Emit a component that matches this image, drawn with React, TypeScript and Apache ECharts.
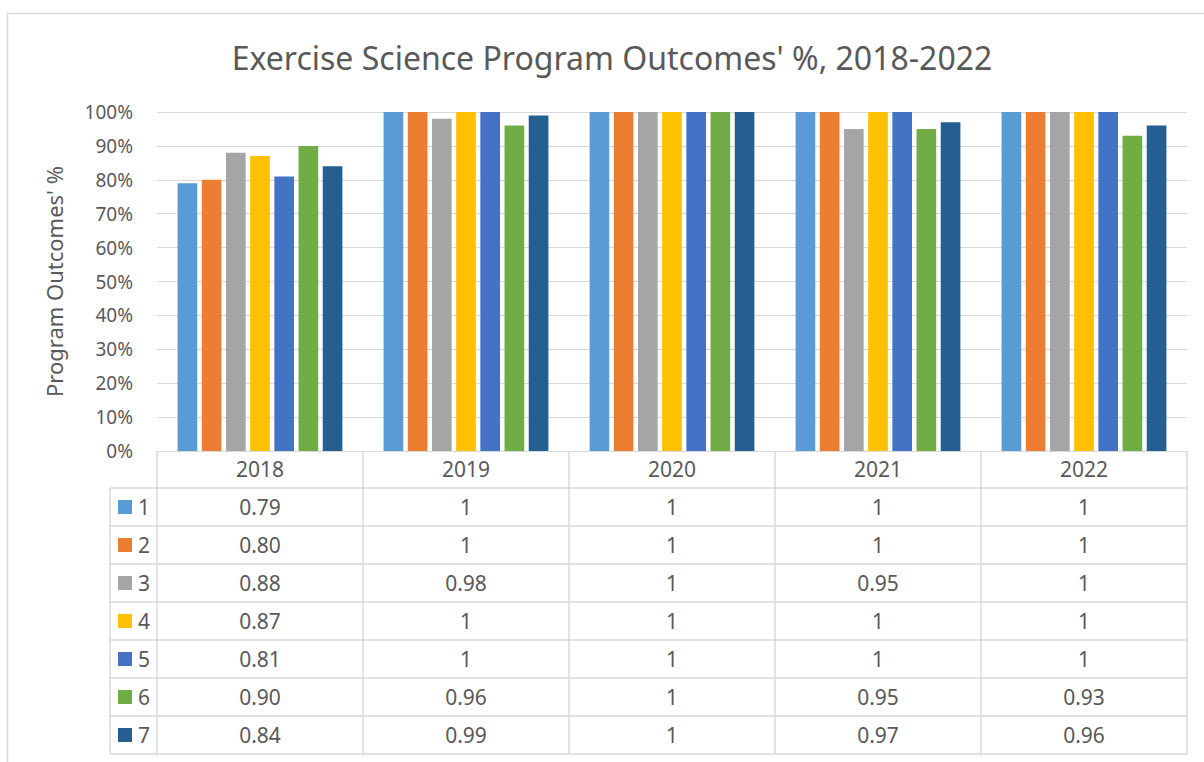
import React, { useEffect, useRef } from "react";
import * as echarts from "echarts";

const years = ["2018", "2019", "2020", "2021", "2022"];
const seriesNames = ["1", "2", "3", "4", "5", "6", "7"];
const s1 = [0.79, 1, 1, 1, 1];
const s2 = [0.8, 1, 1, 1, 1];
const s3 = [0.88, 0.98, 1, 0.95, 1];
const s4 = [0.87, 1, 1, 1, 1];
const s5 = [0.81, 1, 1, 1, 1];
const s6 = [0.9, 0.96, 1, 0.95, 0.93];
const s7 = [0.84, 0.99, 1, 0.97, 0.96];
const seriesData = [s1, s2, s3, s4, s5, s6, s7];
const colors = ["#5B9BD5", "#ED7D31", "#A5A5A5", "#FFC000", "#4472C4", "#70AD47", "#255E91"];
const yTicks = [0, 0.1, 0.2, 0.3, 0.4, 0.5, 0.6, 0.7, 0.8, 0.9, 1];

const FONT = "'Noto Sans', sans-serif";
const TXT = "#595959";
const LINE = "#D9D9D9";

const GRID_LEFT = 157;
const GRID_RIGHT_X = 1187;
const GRID_TOP = 112;
const GRID_BOTTOM_Y = 451;
const HEADER_H = 37;
const ROW_H = 38;
const KEY_LEFT = 110;

function fmt(v: number) {
  return v === 1 ? "1" : v.toFixed(2);
}

export default function App() {
  const ref = useRef<HTMLDivElement>(null);
  useEffect(() => {
    const chart = echarts.init(ref.current!, undefined, { renderer: "svg" });
    const base: any = {
      animation: false,
      color: colors,
      grid: {
        left: GRID_LEFT,
        right: 1204 - GRID_RIGHT_X,
        top: GRID_TOP,
        bottom: 762 - GRID_BOTTOM_Y,
        containLabel: false,
      },
      xAxis: {
        type: "category",
        data: years,
        axisLine: { lineStyle: { color: LINE, width: 1 } },
        axisTick: { show: false },
        axisLabel: {
          color: TXT,
          fontFamily: FONT,
          fontSize: 21,
          margin: 18,
          verticalAlign: "middle",
        },
      },
      yAxis: {
        type: "value",
        min: 0,
        max: 1,
        interval: 0.1,
        name: "Program Outcomes' %",
        nameLocation: "middle",
        nameRotate: 90,
        nameGap: 92,
        nameTextStyle: { color: TXT, fontFamily: FONT, fontSize: 22 },
        axisLine: { show: false },
        axisTick: { show: false },
        splitLine: { lineStyle: { color: LINE, width: 1 } },
        axisLabel: {
          color: TXT,
          fontFamily: FONT,
          fontSize: 19,
          margin: 24,
          formatter: (v: number) => {
            const t = yTicks.find((x) => Math.abs(x - v) < 1e-6);
            return Math.round((t ?? v) * 100) + "%";
          },
        },
      },
      series: seriesNames.map((n, i) => ({
        name: n,
        type: "bar",
        data: seriesData[i],
        barCategoryGap: "20%",
        barGap: "23%",
        itemStyle: { color: colors[i] },
      })),
    };
    chart.setOption(base);

    const centers = years.map((y) => chart.convertToPixel({ xAxisIndex: 0 }, y) as number);
    const band = centers.length > 1 ? centers[1] - centers[0] : GRID_RIGHT_X - GRID_LEFT;
    const colEdges = [centers[0] - band / 2, ...centers.map((c) => c + band / 2)];
    const tableTop = GRID_BOTTOM_Y;
    const rowsTop = tableTop + HEADER_H;
    const tableBottom = rowsTop + ROW_H * seriesNames.length;

    const g: any[] = [];
    g.push({
      type: "rect",
      shape: { x: 7.5, y: 13.5, width: 1230, height: 800 },
      style: { fill: "none", stroke: LINE, lineWidth: 1.5 },
      silent: true,
    });
    g.push({
      type: "text",
      x: 612,
      y: 57,
      style: {
        text: "Exercise Science Program Outcomes' %, 2018-2022",
        fill: TXT,
        font: `32px ${FONT}`,
        align: "center",
        verticalAlign: "middle",
      },
    });
    colEdges.forEach((x) => {
      g.push({
        type: "line",
        shape: { x1: x, y1: tableTop, x2: x, y2: tableBottom },
        style: { stroke: LINE, lineWidth: 1.5 },
      });
    });
    g.push({
      type: "line",
      shape: { x1: KEY_LEFT, y1: rowsTop, x2: KEY_LEFT, y2: tableBottom },
      style: { stroke: LINE, lineWidth: 1.5 },
    });
    for (let r = 0; r <= seriesNames.length; r++) {
      const y = rowsTop + r * ROW_H;
      g.push({
        type: "line",
        shape: { x1: KEY_LEFT, y1: y, x2: colEdges[colEdges.length - 1], y2: y },
        style: { stroke: LINE, lineWidth: 1.5 },
      });
    }
    seriesNames.forEach((n, r) => {
      const cy = rowsTop + r * ROW_H + ROW_H / 2;
      g.push({
        type: "rect",
        shape: { x: 118, y: cy - 7, width: 14, height: 14 },
        style: { fill: colors[r] },
      });
      g.push({
        type: "text",
        x: 138,
        y: cy,
        style: { text: n, fill: TXT, font: `21px ${FONT}`, align: "left", verticalAlign: "middle" },
      });
      seriesData[r].forEach((v, c) => {
        g.push({
          type: "text",
          x: centers[c],
          y: cy,
          style: { text: fmt(v), fill: TXT, font: `21px ${FONT}`, align: "center", verticalAlign: "middle" },
        });
      });
    });
    chart.setOption({ graphic: g });
    return () => chart.dispose();
  }, []);
  return (
    <div
      ref={ref}
      style={{ position: "fixed", left: 0, top: 0, width: 1204, height: 762, background: "#fff" }}
    />
  );
}
